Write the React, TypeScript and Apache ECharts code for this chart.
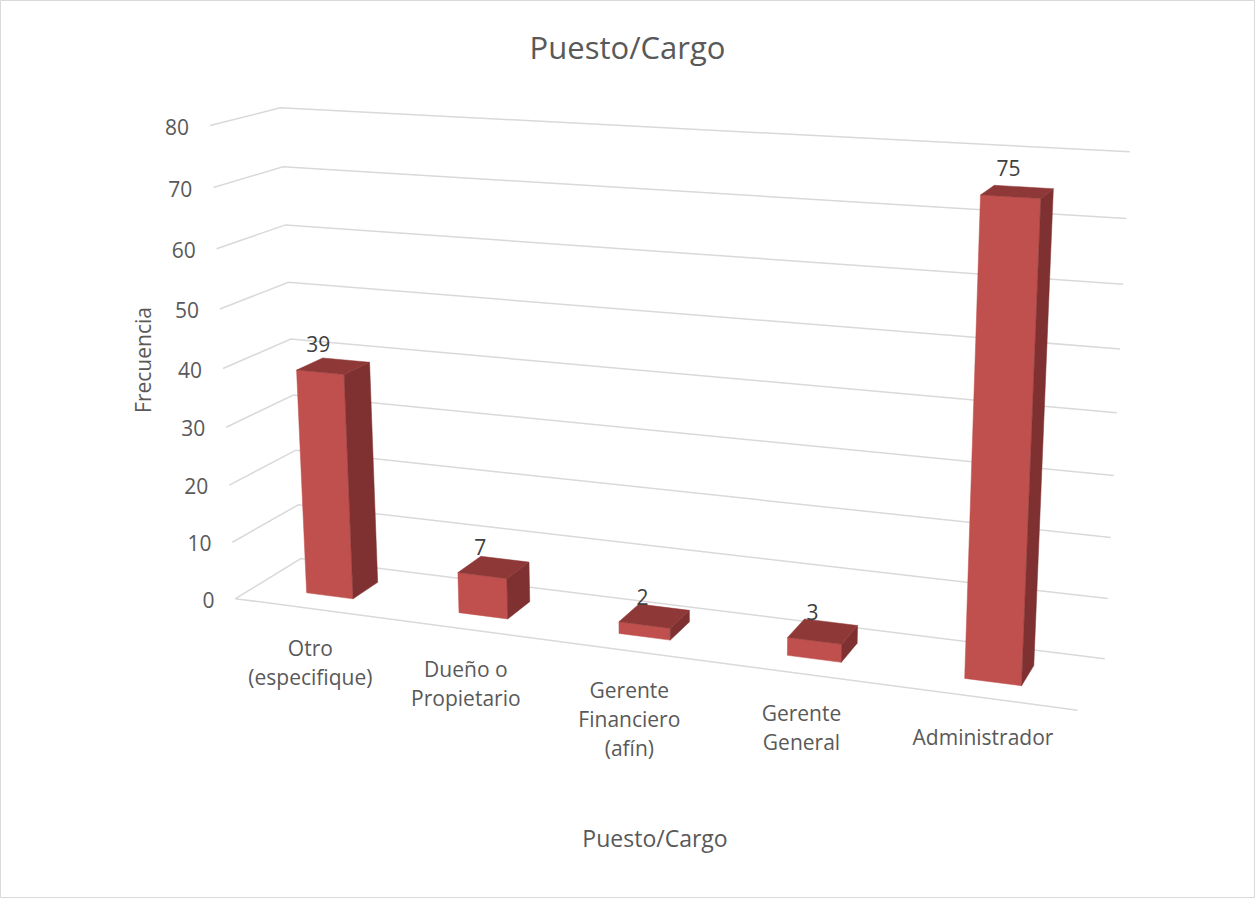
import React, { useEffect, useRef } from "react";
import * as echarts from "echarts";

// ---- data ----
const categories = [
  "Otro\n(especifique)",
  "Dueño o\nPropietario",
  "Gerente\nFinanciero\n(afín)",
  "Gerente\nGeneral",
  "Administrador",
];
const frecuencia = [39, 7, 2, 3, 75];
const yTicks = [0, 10, 20, 30, 40, 50, 60, 70, 80];
const chartTitle = "Puesto/Cargo";
const xAxisTitle = "Puesto/Cargo";
const yAxisTitle = "Frecuencia";

// ---- layout: calibration of the 3-D box (normalised X, Y, Z -> screen px) ----
const CALIB: number[][] = [
  [0, 1, 1, 280, 107],
  [0, 0.875, 1, 283, 167],
  [0, 0.75, 1, 286, 225],
  [0, 0.625, 1, 288, 282],
  [0, 0.375, 1, 293, 395],
  [0, 0.25, 1, 296, 450],
  [0, 0.125, 1, 299, 505],
  [0, 0, 1, 301, 559],
  [1, 1, 1, 1130, 152],
  [1, 0.875, 1, 1127, 219],
  [1, 0.75, 1, 1123, 284],
  [1, 0.625, 1, 1120, 348],
  [1, 0.5, 1, 1117, 413],
  [1, 0.375, 1, 1113, 476],
  [1, 0.25, 1, 1110, 537],
  [1, 0.125, 1, 1108, 599],
  [1, 0, 1, 1105, 659],
  [0, 1, 0, 210, 126],
  [0, 0.875, 0, 213, 188],
  [0, 0.75, 0, 217, 249],
  [0, 0.625, 0, 220, 309],
  [0, 0.5, 0, 223, 368],
  [0, 0.375, 0, 227, 427],
  [0, 0.25, 0, 229, 486],
  [0, 0.125, 0, 232, 542],
  [0, 0, 0, 235, 598],
  [1, 0, 0, 1078, 710],
];
const BAR_FRACTION = 0.31;
const Z_FRONT = 0.3;
const Z_BACK = 0.7;
const FONT = "'Open Sans', 'Noto Sans', sans-serif";

function fitCamera(pts: number[][]): number[] {
  const S = 1000;
  const n = 11;
  const M: number[][] = Array.from({ length: n }, () => new Array(n).fill(0));
  const r: number[] = new Array(n).fill(0);
  const addRow = (row: number[], b: number) => {
    for (let i = 0; i < n; i++) {
      r[i] += row[i] * b;
      for (let j = 0; j < n; j++) M[i][j] += row[i] * row[j];
    }
  };
  for (const [X, Y, Z, u0, v0] of pts) {
    const u = u0 / S;
    const v = v0 / S;
    addRow([X, Y, Z, 1, 0, 0, 0, 0, -u * X, -u * Y, -u * Z], u);
    addRow([0, 0, 0, 0, X, Y, Z, 1, -v * X, -v * Y, -v * Z], v);
  }
  for (let c = 0; c < n; c++) {
    let piv = c;
    for (let k = c + 1; k < n; k++) if (Math.abs(M[k][c]) > Math.abs(M[piv][c])) piv = k;
    [M[c], M[piv]] = [M[piv], M[c]];
    [r[c], r[piv]] = [r[piv], r[c]];
    for (let k = c + 1; k < n; k++) {
      const f = M[k][c] / M[c][c];
      for (let j = c; j < n; j++) M[k][j] -= f * M[c][j];
      r[k] -= f * r[c];
    }
  }
  const p = new Array(n).fill(0);
  for (let c = n - 1; c >= 0; c--) {
    let s = r[c];
    for (let j = c + 1; j < n; j++) s -= M[c][j] * p[j];
    p[c] = s / M[c][c];
  }
  return p;
}

const CAM = fitCamera(CALIB);
function project(X: number, Y: number, Z: number): number[] {
  const p = CAM;
  const w = p[8] * X + p[9] * Y + p[10] * Z + 1;
  return [
    (1000 * (p[0] * X + p[1] * Y + p[2] * Z + p[3])) / w,
    (1000 * (p[4] * X + p[5] * Y + p[6] * Z + p[7])) / w,
  ];
}

export default function App() {
  const ref = useRef<HTMLDivElement>(null);
  useEffect(() => {
    if (!ref.current) return;
    const chart = echarts.init(ref.current, null, { renderer: "svg" });

    const normY = (cs: any, py: number) => (cs.y + cs.height - py) / cs.height;

    const renderGrid = (params: any, api: any) => {
      const cs = params.coordSys;
      const t = api.value(1);
      const yn = normY(cs, api.coord([0, t])[1]);
      const a = project(0, yn, 0);
      const b = project(0, yn, 1);
      const c = project(1, yn, 1);
      const children: any[] = [
        {
          type: "polyline",
          shape: { points: [a, b, c] },
          style: { stroke: "#D9D9D9", lineWidth: 1.5, fill: "none" },
        },
        {
          type: "text",
          x: a[0] - 21,
          y: a[1] + 1,
          style: {
            text: String(t),
            align: "right",
            verticalAlign: "middle",
            fill: "#595959",
            font: `21px ${FONT}`,
          },
        },
      ];
      if (t === 0) {
        children.push({
          type: "line",
          shape: { x1: a[0], y1: a[1], x2: project(1, 0, 0)[0], y2: project(1, 0, 0)[1] },
          style: { stroke: "#D9D9D9", lineWidth: 1.5 },
        });
      }
      return { type: "group", children };
    };

    const renderBar = (params: any, api: any) => {
      const cs = params.coordSys;
      const i = api.value(0);
      const v = api.value(1);
      const top = api.coord([i, v]);
      const band = api.size([1, 0])[0];
      const xc = (top[0] - cs.x) / cs.width;
      const hw = (BAR_FRACTION * band) / 2 / cs.width;
      const yn = normY(cs, top[1]);
      const x0 = xc - hw;
      const x1 = xc + hw;
      const front = [project(x0, 0, Z_FRONT), project(x1, 0, Z_FRONT), project(x1, yn, Z_FRONT), project(x0, yn, Z_FRONT)];
      const side = [project(x1, 0, Z_FRONT), project(x1, 0, Z_BACK), project(x1, yn, Z_BACK), project(x1, yn, Z_FRONT)];
      const topF = [project(x0, yn, Z_FRONT), project(x1, yn, Z_FRONT), project(x1, yn, Z_BACK), project(x0, yn, Z_BACK)];
      const lp = project(xc, yn, Z_FRONT);
      return {
        type: "group",
        children: [
          { type: "polygon", shape: { points: front }, style: { fill: "#C0504D", stroke: "#C0504D", lineWidth: 0.5 } },
          { type: "polygon", shape: { points: side }, style: { fill: "#7E3130", stroke: "#7E3130", lineWidth: 0.5 } },
          { type: "polygon", shape: { points: topF }, style: { fill: "#8E3937", stroke: "#8E3937", lineWidth: 0.5 } },
          {
            type: "text",
            x: lp[0] - 2,
            y: lp[1] - 18,
            style: {
              text: String(v),
              align: "center",
              verticalAlign: "bottom",
              fill: "#404040",
              font: `21px ${FONT}`,
            },
          },
        ],
      };
    };

    const renderCat = (params: any, api: any) => {
      const cs = params.coordSys;
      const i = api.value(0);
      const p = api.coord([i, 0]);
      const xc = (p[0] - cs.x) / cs.width;
      const a = project(xc, 0, 0);
      return {
        type: "text",
        x: a[0],
        y: a[1] + 25,
        style: {
          text: categories[i],
          align: "center",
          verticalAlign: "top",
          lineHeight: 29,
          fill: "#595959",
          font: `21px ${FONT}`,
        },
      };
    };

    chart.setOption({
      animation: false,
      backgroundColor: "#FFFFFF",
      title: {
        text: chartTitle,
        left: "center",
        top: 26,
        textStyle: { fontSize: 31, fontWeight: "normal", color: "#595959", fontFamily: FONT },
      },
      grid: { left: 100, right: 100, top: 100, bottom: 100 },
      xAxis: { type: "category", data: categories, show: false },
      yAxis: { type: "value", min: 0, max: 80, interval: 10, show: false },
      graphic: [
        {
          type: "rect",
          shape: { x: 0.5, y: 0.5, width: 1254, height: 897 },
          style: { fill: "none", stroke: "#D9D9D9", lineWidth: 1 },
          silent: true,
        },
        {
          type: "text",
          x: 143,
          y: 360,
          rotation: Math.PI / 2,
          style: { text: yAxisTitle, align: "center", verticalAlign: "middle", fill: "#595959", font: `21px ${FONT}` },
        },
        {
          type: "text",
          x: 655,
          y: 838,
          style: { text: xAxisTitle, align: "center", verticalAlign: "middle", fill: "#595959", font: `23px ${FONT}` },
        },
      ],
      series: [
        {
          type: "custom",
          name: "grid",
          renderItem: renderGrid,
          data: yTicks.map((t) => [0, t]),
          z: 1,
          silent: true,
        },
        {
          type: "custom",
          name: "Frecuencia",
          renderItem: renderBar,
          data: frecuencia.map((v, i) => [i, v]),
          z: 2,
        },
        {
          type: "custom",
          name: "categorias",
          renderItem: renderCat,
          data: categories.map((_, i) => [i, 0]),
          z: 3,
          silent: true,
        },
      ],
    });
    return () => chart.dispose();
  }, []);
  return <div ref={ref} style={{ position: "fixed", left: 0, top: 0, width: 1255, height: 898 }} />;
}
